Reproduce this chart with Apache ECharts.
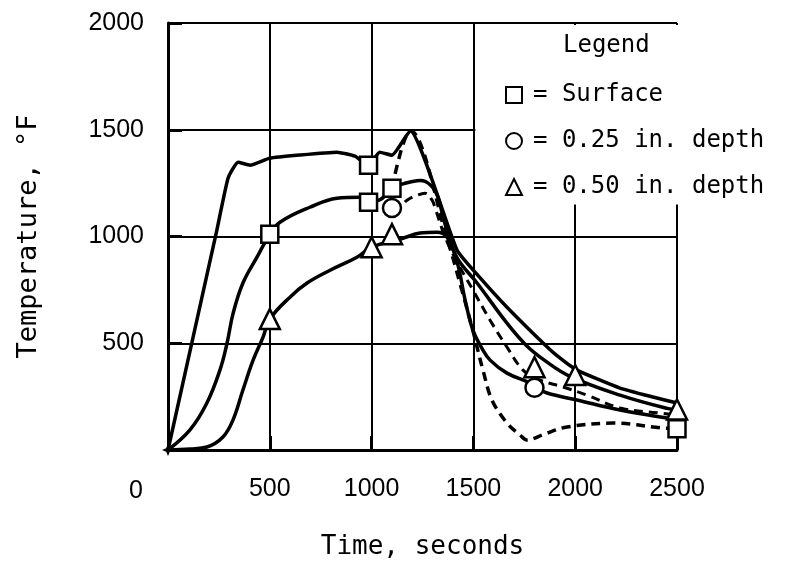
<!DOCTYPE html>
<html>
<head>
<meta charset="utf-8">
<script src="https://cdn.jsdelivr.net/npm/echarts@6/dist/echarts.min.js"></script>
<style>
  html, body { margin: 0; padding: 0; background: #fff; }
  #chart { width: 785px; height: 563px; }
</style>
</head>
<body>
<div id="chart"></div>
<script>
// 轴刻度
const xTicks = [0, 500, 1000, 1500, 2000, 2500]
const yTicks = [0, 500, 1000, 1500, 2000]

// 曲线数据 [时间 s, 温度 °F]
const surfaceSolid = [[0, 0], [240, 1030], [295, 1273], [344, 1348], [403, 1334], [500, 1367], [650, 1382], [830, 1395], [918, 1376], [985, 1334], [1040, 1395], [1100, 1381], [1190, 1495], [1420, 936], [1530, 810], [1665, 669], [1827, 515], [1900, 450], [2009, 374], [2220, 290], [2382, 248], [2500, 220]]
const surfaceDashed = [[1100, 1226], [1190, 1495], [1380, 960], [1440, 760], [1493, 576], [1518, 482], [1547, 374], [1591, 234], [1665, 126], [1729, 70], [1763, 47], [1850, 75], [1960, 108], [2186, 126], [2431, 103], [2500, 100]]
const midSolid = [[0, 0], [108, 94], [191, 220], [255, 374], [290, 500], [320, 641], [368, 782], [437, 903], [500, 1010], [550, 1067], [697, 1137], [830, 1179], [943, 1184], [985, 1165], [1040, 1172], [1100, 1226], [1150, 1245], [1190, 1255], [1240, 1262], [1290, 1240], [1326, 1184], [1351, 1090], [1375, 1016], [1420, 900], [1518, 782], [1665, 594], [1760, 490], [1850, 420], [1975, 345], [2220, 257], [2451, 195], [2500, 190]]
const midDashed = [[1100, 1133], [1140, 1140], [1174, 1170], [1223, 1193], [1262, 1203], [1297, 1170], [1312, 1133], [1360, 1000], [1420, 880], [1498, 749], [1582, 608], [1665, 482], [1744, 374], [1820, 330], [1940, 295], [2058, 257], [2220, 197], [2417, 173], [2500, 165]]
const lowSolid = [[0, 0], [108, 5], [191, 14], [270, 61], [319, 140], [368, 281], [418, 421], [467, 529], [500, 613], [599, 716], [683, 782], [796, 842], [928, 903], [1000, 950], [1154, 992], [1238, 1016], [1321, 1020], [1370, 997], [1420, 880], [1460, 700], [1498, 560], [1540, 480], [1582, 421], [1665, 360], [1778, 314], [1803, 295], [1862, 267], [2009, 234], [2220, 187], [2451, 150], [2500, 145]]

// 测点
const squarePts = [[500, 1010], [985, 1334], [985, 1161], [1100, 1226], [2500, 100]]
const circlePts = [[1100, 1133], [1800, 292]]
const trianglePts = [[500, 613], [1000, 950], [1100, 1011], [1800, 388], [2000, 351], [2500, 190]]
const originPt = [[0, 0]]

const mono = 'DejaVu Sans Mono'
const sans = 'Liberation Sans'

const chart = echarts.init(document.getElementById('chart'))

function lineSeries(data, dashed, width, smooth) {
  return {
    type: 'line',
    data: data,
    smooth: smooth,
    symbol: 'none',
    z: 2,
    lineStyle: {
      color: '#000',
      width: width,
      type: dashed ? [9, 6] : 'solid'
    }
  }
}

function markerSeries(name, data, symbol, size) {
  return {
    name: name,
    type: 'scatter',
    data: data,
    symbol: symbol,
    symbolSize: size,
    z: 5,
    itemStyle: { color: '#fff', borderColor: '#000', borderWidth: 2.5, opacity: 1 }
  }
}

const option = {
  animation: false,
  backgroundColor: '#fff',
  grid: { left: 168, right: 108, top: 23, bottom: 113, outerBoundsMode: 'none' },
  xAxis: {
    type: 'value',
    min: 0,
    max: 2500,
    interval: 500,
    name: 'Time, seconds',
    nameLocation: 'middle',
    nameGap: 84,
    nameTextStyle: { fontFamily: mono, fontSize: 26, color: '#000' },
    axisLine: { show: true, lineStyle: { color: '#000', width: 3 } },
    axisTick: { show: true, inside: true, length: 14, lineStyle: { color: '#000', width: 3 } },
    axisLabel: {
      showMinLabel: false,
      margin: 27,
      fontFamily: sans,
      fontSize: 25,
      color: '#000',
      formatter: (v) => xTicks.indexOf(v) >= 0 ? String(v) : ''
    },
    splitLine: { show: true, lineStyle: { color: '#000', width: 2 } }
  },
  yAxis: {
    type: 'value',
    min: 0,
    max: 2000,
    interval: 500,
    name: 'Temperature, °F',
    nameLocation: 'middle',
    nameGap: 126,
    nameTextStyle: { fontFamily: mono, fontSize: 27, color: '#000' },
    axisLine: { show: true, lineStyle: { color: '#000', width: 3 } },
    axisTick: { show: true, inside: true, length: 14, lineStyle: { color: '#000', width: 3 } },
    axisLabel: {
      showMinLabel: false,
      margin: 24,
      fontFamily: sans,
      fontSize: 25,
      color: '#000',
      formatter: (v) => yTicks.indexOf(v) >= 0 ? String(v) : ''
    },
    splitLine: { show: true, lineStyle: { color: '#000', width: 2 } }
  },
  legend: {
    data: ['Surface', '0.25 in. depth', '0.50 in. depth'],
    orient: 'vertical',
    left: 500,
    top: 78,
    itemWidth: 16,
    itemHeight: 16,
    itemGap: 22,
    selectedMode: false,
    formatter: '= {name}',
    textStyle: { fontFamily: mono, fontSize: 24, lineHeight: 24, color: '#000', padding: [0, 0, 0, 6] }
  },
  series: [
    lineSeries(surfaceSolid, false, 3.5, 0.15),
    lineSeries(surfaceDashed, true, 3.5, 0.35),
    lineSeries(midSolid, false, 3.5, 0.4),
    lineSeries(midDashed, true, 3, 0.4),
    lineSeries(lowSolid, false, 3.5, 0.4),
    markerSeries('Surface', squarePts, 'rect', 17),
    markerSeries('0.25 in. depth', circlePts, 'circle', 18),
    markerSeries('0.50 in. depth', trianglePts, 'triangle', 20),
    {
      type: 'scatter',
      data: originPt,
      symbol: 'path://M0,-10 L3,-3 L10,0 L3,3 L0,10 L-3,3 L-10,0 L-3,-3 Z',
      symbolSize: 12,
      z: 6,
      itemStyle: { color: '#000', opacity: 1 }
    }
  ]
}

chart.setOption(option)

// 图例区域遮住网格线
const p1 = chart.convertToPixel({ gridIndex: 0 }, [1500, 2000])
const p2 = chart.convertToPixel({ gridIndex: 0 }, [2500, 1150])
chart.setOption({
  graphic: [
    {
      type: 'rect',
      z: 1,
      shape: { x: p1[0] + 2, y: p1[1] + 2, width: p2[0] - p1[0] + 4, height: p2[1] - p1[1] - 2 },
      style: { fill: '#fff' }
    },
    {
      type: 'text',
      z: 3,
      left: 563,
      top: 34,
      style: { text: 'Legend', font: '24px ' + mono, fill: '#000' }
    },
    {
      type: 'text',
      z: 3,
      left: 129,
      top: 479,
      style: { text: '0', font: '25px ' + sans, fill: '#000' }
    }
  ]
})
</script>
</body>
</html>
